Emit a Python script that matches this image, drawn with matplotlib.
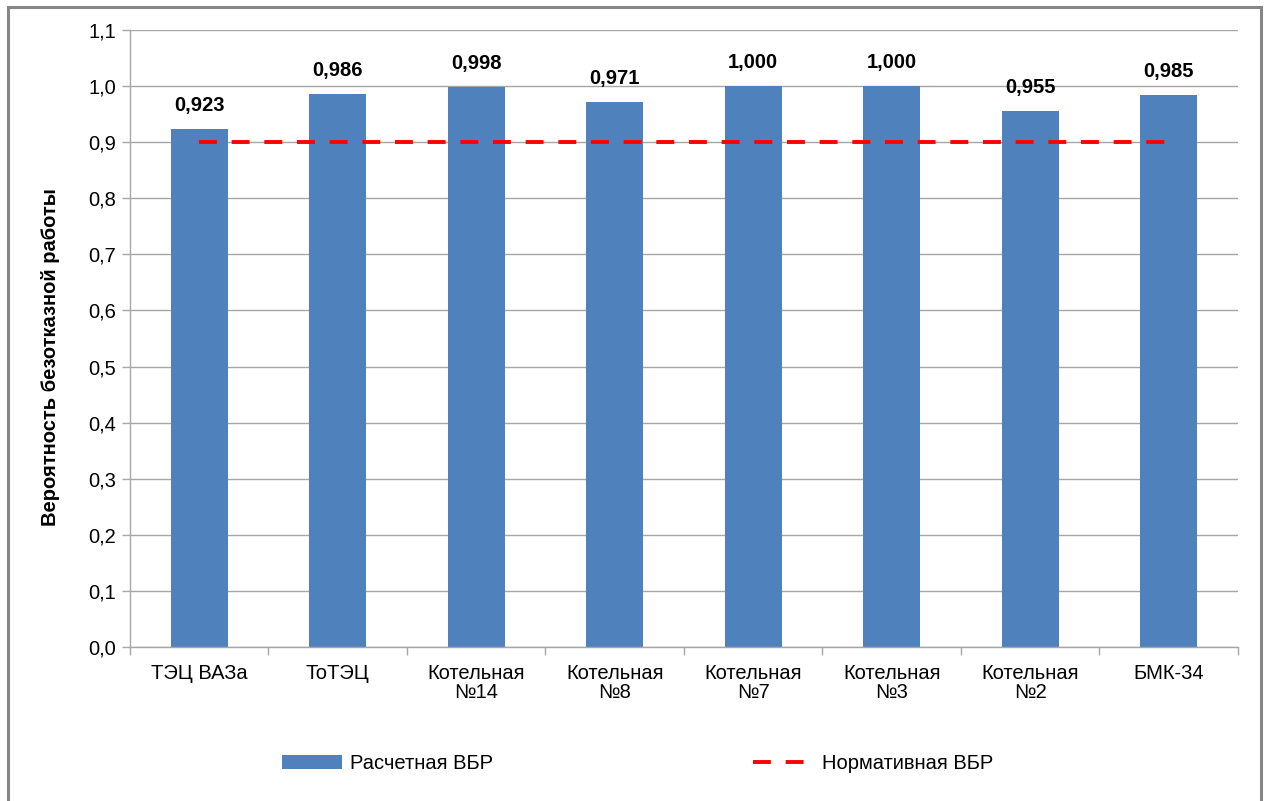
import matplotlib
matplotlib.use('Agg')
import matplotlib.pyplot as plt
from matplotlib.patches import Rectangle

plt.rcParams['font.family'] = ['Liberation Sans', 'DejaVu Sans']

# data
categories = ['ТЭЦ ВАЗа', 'ТоТЭЦ', 'Котельная\n№14', 'Котельная\n№8', 'Котельная\n№7',
              'Котельная\n№3', 'Котельная\n№2', 'БМК-34']
calc_vbr = [0.923, 0.986, 0.998, 0.971, 1.000, 1.000, 0.955, 0.985]
value_labels = ['0,923', '0,986', '0,998', '0,971', '1,000', '1,000', '0,955', '0,985']
norm_vbr = [0.9] * len(categories)
yticks = [0.0, 0.1, 0.2, 0.3, 0.4, 0.5, 0.6, 0.7, 0.8, 0.9, 1.0, 1.1]

bar_color = '#4f81bd'
grid_color = '#a6a6a6'
fs = 14.5

fig = plt.figure(figsize=(12.67, 8.01), dpi=100)
ax = fig.add_axes([0.1026, 0.1923, 0.8745, 0.7702])

x = list(range(len(categories)))
bars = ax.bar(x, calc_vbr, width=0.41, color=bar_color, label='Расчетная ВБР', zorder=2)
line, = ax.plot(x, norm_vbr, color='#ff0000', linewidth=2.8, dashes=(4.6, 3.8),
                label='Нормативная ВБР', zorder=3)

for b, lbl in zip(bars, value_labels):
    ax.annotate(lbl, (b.get_x() + b.get_width() / 2, b.get_height()),
                xytext=(0, 10), textcoords='offset points', ha='center', va='bottom',
                fontsize=fs, fontweight='bold')

ax.set_xlim(-0.5, len(categories) - 0.5)
ax.set_ylim(0, 1.1)
ax.set_yticks(yticks)
ax.set_yticklabels([f'{t:.1f}'.replace('.', ',') for t in yticks], fontsize=fs)
ax.yaxis.grid(True, color=grid_color, linewidth=1, zorder=0)
ax.set_axisbelow(True)

ax.set_xticks(x)
ax.set_xticklabels(categories, fontsize=fs, linespacing=1.05)
ax.tick_params(axis='x', length=0, pad=12)
ax.set_xticks([i - 0.5 for i in range(len(categories) + 1)], minor=True)
ax.tick_params(axis='x', which='minor', length=6, color=grid_color, width=1)
ax.tick_params(axis='y', length=6, color=grid_color, width=1, pad=4)

for s in ['top', 'right']:
    ax.spines[s].set_visible(False)
for s in ['left', 'bottom']:
    ax.spines[s].set_color(grid_color)
    ax.spines[s].set_linewidth(1)

ax.set_ylabel('Вероятность безотказной работы', fontsize=fs, fontweight='bold')
ax.yaxis.set_label_coords(-0.063, 0.47)

fig.legend(handles=[bars, line], loc='center', bbox_to_anchor=(0.503, 0.047), ncol=2,
           frameon=False, fontsize=fs, handlelength=3.0, handletextpad=0.4,
           columnspacing=12.9)

# outer chart frame
fig.patches.append(Rectangle((8 / 1267, -0.05), (1261 - 8) / 1267, 1.05 - 7 / 801,
                             transform=fig.transFigure, fill=False,
                             edgecolor='#868686', linewidth=2.2))

fig.savefig('out.png', dpi=100)
